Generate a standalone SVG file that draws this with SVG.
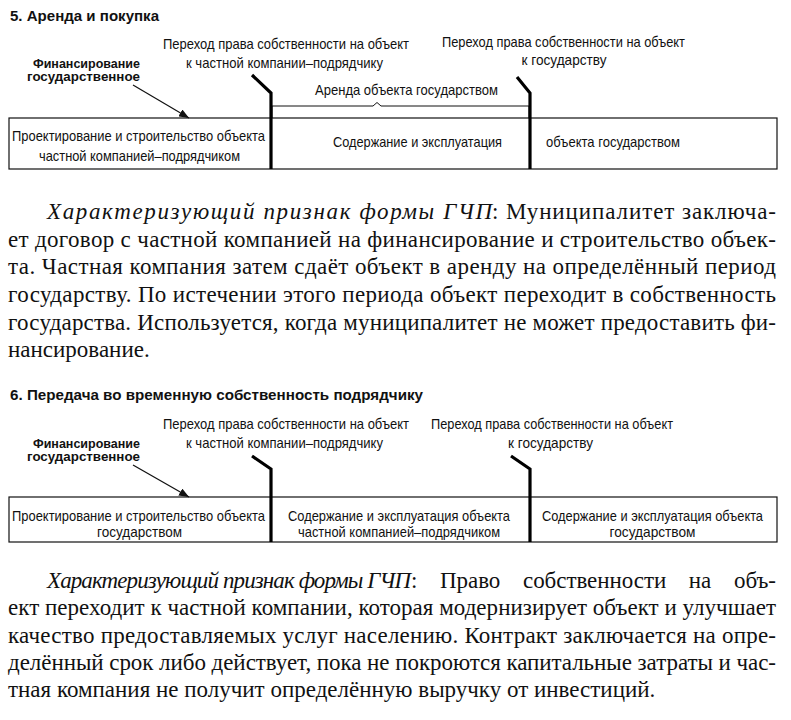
<svg xmlns="http://www.w3.org/2000/svg" width="791" height="720" viewBox="0 0 791 720">
<defs>
<style>
.title{font-family:"Liberation Sans",Arial,sans-serif;font-weight:bold;font-size:14px;fill:#111}
.fin{font-family:"Liberation Sans",Arial,sans-serif;font-weight:bold;font-size:12.5px;fill:#111}
.lbl{font-family:"Liberation Sans",Arial,sans-serif;font-size:14.5px;fill:#111}
.body{font-family:"Liberation Serif","DejaVu Serif",serif;font-size:23px;fill:#111}
.it{font-style:italic}
.box{fill:#fff;stroke:#111;stroke-width:1.2}
.thick{fill:none;stroke:#000;stroke-width:3.2;stroke-linejoin:miter}
.thin{fill:none;stroke:#111;stroke-width:1}
.arr{fill:none;stroke:#111;stroke-width:1.2}
</style>
<marker id="ah" viewBox="0 0 10 8" refX="10" refY="4" markerWidth="10" markerHeight="8" markerUnits="userSpaceOnUse" orient="auto">
<path d="M0,0 L10,4 L0,8 Z" fill="#111"/>
</marker>
</defs>
<rect width="791" height="720" fill="#fff"/>

<!-- Section 5 -->
<g id="sec5-title"><text class="title" x="10" y="21" textLength="149" lengthAdjust="spacingAndGlyphs">5. Аренда и покупка</text></g>
<g id="sec5-box">
<rect class="box" x="9" y="118" width="768" height="51"/>
</g>
<g id="sec5-seg1">
<text class="lbl" x="138.5" y="141" text-anchor="middle" textLength="253" lengthAdjust="spacingAndGlyphs">Проектирование и строительство объекта</text>
<text class="lbl" x="139.5" y="161" text-anchor="middle" textLength="201" lengthAdjust="spacingAndGlyphs">частной компанией–подрядчиком</text>
</g>
<g id="sec5-seg2">
<text class="lbl" x="417.5" y="147" text-anchor="middle" textLength="169" lengthAdjust="spacingAndGlyphs">Содержание и эксплуатация</text>
</g>
<g id="sec5-seg3">
<text class="lbl" x="546" y="147" textLength="134" lengthAdjust="spacingAndGlyphs">объекта государством</text>
</g>
<g id="sec5-fin">
<text class="fin" x="86.5" y="68" text-anchor="middle" textLength="107" lengthAdjust="spacingAndGlyphs">Финансирование</text>
<text class="fin" x="83.5" y="81" text-anchor="middle" textLength="113" lengthAdjust="spacingAndGlyphs">государственное</text>
</g>
<g id="sec5-transfer1">
<text class="lbl" x="286" y="49" text-anchor="middle" textLength="246" lengthAdjust="spacingAndGlyphs">Переход права собственности на объект</text>
<text class="lbl" x="284.5" y="68" text-anchor="middle" textLength="197" lengthAdjust="spacingAndGlyphs">к частной компании–подрядчику</text>
</g>
<g id="sec5-transfer2">
<text class="lbl" x="563.5" y="47" text-anchor="middle" textLength="243" lengthAdjust="spacingAndGlyphs">Переход права собственности на объект</text>
<text class="lbl" x="564" y="65" text-anchor="middle" textLength="85" lengthAdjust="spacingAndGlyphs">к государству</text>
</g>
<g id="sec5-lease">
<text class="lbl" x="406.5" y="95" text-anchor="middle" textLength="183" lengthAdjust="spacingAndGlyphs">Аренда объекта государством</text>
</g>

<!-- Section 6 -->
<g id="sec6-title"><text class="title" x="10" y="400" textLength="413" lengthAdjust="spacingAndGlyphs">6. Передача во временную собственность подрядчику</text></g>
<g id="sec6-box">
<rect class="box" x="9" y="497" width="768" height="45"/>
</g>
<g id="sec6-seg1">
<text class="lbl" x="138.5" y="521" text-anchor="middle" textLength="253" lengthAdjust="spacingAndGlyphs">Проектирование и строительство объекта</text>
<text class="lbl" x="139.5" y="537" text-anchor="middle" textLength="85" lengthAdjust="spacingAndGlyphs">государством</text>
</g>
<g id="sec6-seg2">
<text class="lbl" x="399" y="521" text-anchor="middle" textLength="222" lengthAdjust="spacingAndGlyphs">Содержание и эксплуатация объекта</text>
<text class="lbl" x="399" y="537" text-anchor="middle" textLength="202" lengthAdjust="spacingAndGlyphs">частной компанией–подрядчиком</text>
</g>
<g id="sec6-seg3">
<text class="lbl" x="652.5" y="521" text-anchor="middle" textLength="221" lengthAdjust="spacingAndGlyphs">Содержание и эксплуатация объекта</text>
<text class="lbl" x="652.5" y="537" text-anchor="middle" textLength="86" lengthAdjust="spacingAndGlyphs">государством</text>
</g>
<g id="sec6-fin">
<text class="fin" x="86.5" y="448" text-anchor="middle" textLength="107" lengthAdjust="spacingAndGlyphs">Финансирование</text>
<text class="fin" x="83.5" y="461" text-anchor="middle" textLength="113" lengthAdjust="spacingAndGlyphs">государственное</text>
</g>
<g id="sec6-transfer1">
<text class="lbl" x="286" y="429" text-anchor="middle" textLength="246" lengthAdjust="spacingAndGlyphs">Переход права собственности на объект</text>
<text class="lbl" x="284.5" y="448" text-anchor="middle" textLength="197" lengthAdjust="spacingAndGlyphs">к частной компании–подрядчику</text>
</g>
<g id="sec6-transfer2">
<text class="lbl" x="552" y="429" text-anchor="middle" textLength="242" lengthAdjust="spacingAndGlyphs">Переход права собственности на объект</text>
<text class="lbl" x="550.5" y="448" text-anchor="middle" textLength="85" lengthAdjust="spacingAndGlyphs">к государству</text>
</g>

<!-- Connectors -->
<g id="connectors">
<path class="thin" d="M272,118 V106 H373 L377,102.5 L381,106 H529 V118"/>
<path class="thick" d="M252,75 L271,93 V169"/>
<path class="thick" d="M517,77 L530,93 V169"/>
<line class="arr" x1="133" y1="85" x2="189" y2="118" marker-end="url(#ah)"/>
<path class="thick" d="M252,456 L271,469 V542"/>
<path class="thick" d="M511,456 L530,469 V542"/>
<line class="arr" x1="133" y1="465" x2="189" y2="497" marker-end="url(#ah)"/>
</g>

<!-- Paragraph 1 -->
<g id="para1">
<text class="body it" x="47" y="219" textLength="445">Характеризующий признак формы ГЧП</text>
<text class="body" x="492" y="219" textLength="284">: Муниципалитет заключа-</text>
<text class="body" x="8" y="247" textLength="768">ет договор с частной компанией на финансирование и строительство объек-</text>
<text class="body" x="8" y="274" textLength="768">та. Частная компания затем сдаёт объект в аренду на определённый период</text>
<text class="body" x="8" y="302" textLength="768">государству. По истечении этого периода объект переходит в собственность</text>
<text class="body" x="8" y="330" textLength="768">государства. Используется, когда муниципалитет не может предоставить фи-</text>
<text class="body" x="8" y="357">нансирование.</text>
</g>

<!-- Paragraph 2 -->
<g id="para2">
<text class="body it" x="47" y="588" textLength="364">Характеризующий признак формы ГЧП</text>
<text class="body" x="411" y="588" textLength="365" style="word-spacing:17px">: Право собственности на объ-</text>
<text class="body" x="8" y="615" textLength="768">ект переходит к частной компании, которая модернизирует объект и улучшает</text>
<text class="body" x="8" y="643" textLength="768">качество предоставляемых услуг населению. Контракт заключается на опре-</text>
<text class="body" x="8" y="670" textLength="768">делённый срок либо действует, пока не покроются капитальные затраты и час-</text>
<text class="body" x="8" y="697">тная компания не получит определённую выручку от инвестиций.</text>
</g>
</svg>
